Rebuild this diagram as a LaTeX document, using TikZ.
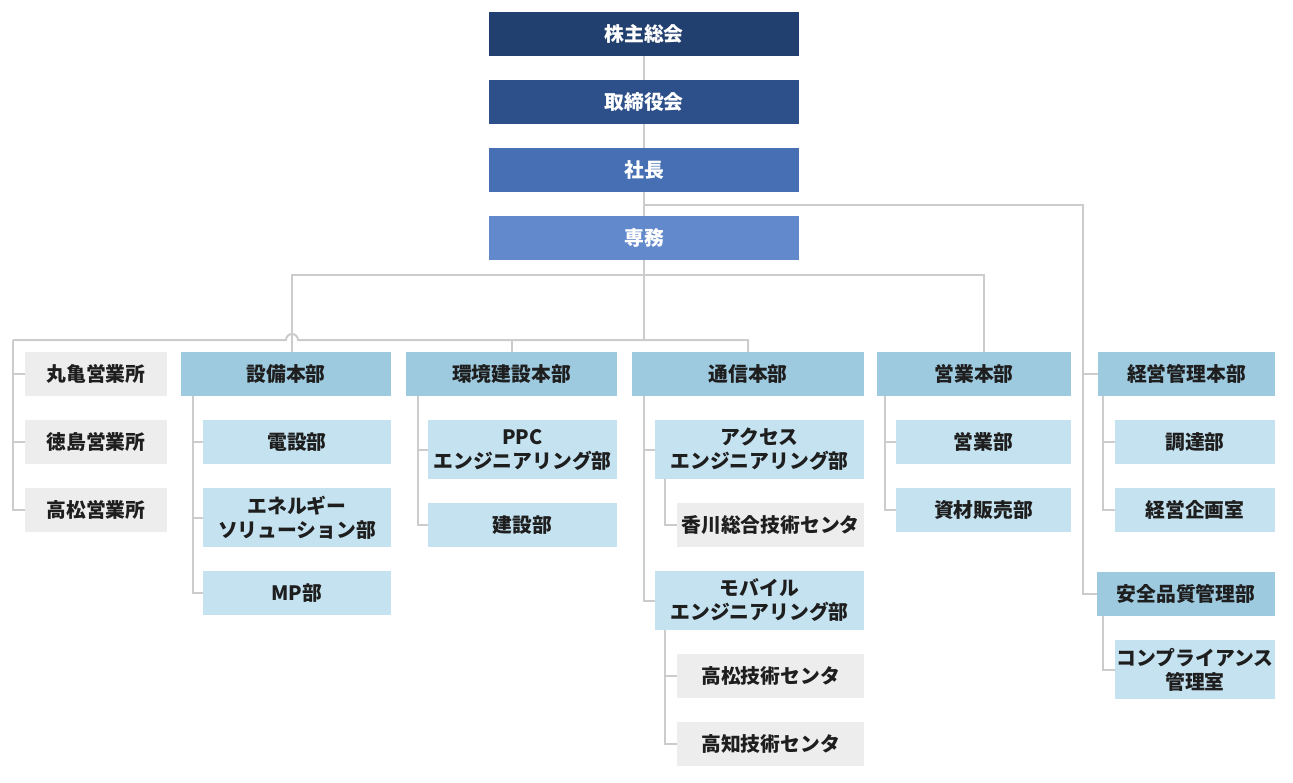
\documentclass[tikz,border=0pt]{standalone}
\usepackage{fontspec}
\setmainfont{Noto Sans CJK JP}
\definecolor{navydark}{RGB}{34,64,111}
\definecolor{navymid}{RGB}{45,80,138}
\definecolor{bluemid}{RGB}{71,112,180}
\definecolor{bluelight}{RGB}{97,137,203}
\definecolor{hqblue}{RGB}{158,202,224}
\definecolor{subblue}{RGB}{197,226,240}
\definecolor{boxgrey}{RGB}{237,237,237}
\definecolor{linegrey}{RGB}{204,204,204}
\definecolor{textdark}{RGB}{30,30,30}

\begin{document}
\begin{tikzpicture}[x=1pt, y=-1pt,
    box/.style={minimum height=44pt, inner sep=0pt, align=center, text=textdark,
        font=\bfseries\fontsize{19.8}{24}\selectfont},
    topbox/.style={box, minimum width=310pt, text=white},
    hqbox/.style={box, fill=hqblue},
    subbox/.style={box, fill=subblue},
    greybox/.style={box, fill=boxgrey},
    tall/.style={minimum height=59pt},
    link/.style={draw=linegrey, line width=2pt}]
    \useasboundingbox (0,0) rectangle (1293,782);

    % Cabecera
    \node[topbox, fill=navydark] (kabunushi) at (644,34) {株主総会};
    \node[topbox, fill=navymid] (torishimari) at (644,102) {取締役会};
    \node[topbox, fill=bluemid] (shacho) at (644,170) {社長};
    \node[topbox, fill=bluelight] (senmu) at (644,238) {専務};

    % Sucursales
    \foreach \n/\y/\t in {marugame/374/丸亀営業所, tokushima/442/徳島営業所, takamatsu/510/高松営業所} {
        \node[greybox, minimum width=142pt] (\n) at (96,\y) {\t};
    }

    % Honbu
    \node[hqbox, minimum width=210pt] (setsubi) at (286,374) {設備本部};
    \node[hqbox, minimum width=211pt] (kankyo) at (511.5,374) {環境建設本部};
    \node[hqbox, minimum width=232pt] (tsushin) at (748,374) {通信本部};
    \node[hqbox, minimum width=194pt] (eigyo) at (974,374) {営業本部};
    \node[hqbox, minimum width=177pt] (keiei) at (1186.5,374) {経営管理本部};
    \node[hqbox, minimum width=178pt] (anzen) at (1186,594) {安全品質管理部};

    % Departamentos
    \node[subbox, minimum width=188pt] (densetsu) at (297,442) {電設部};
    \node[subbox, tall, minimum width=188pt] (energy) at (297,517.5) {エネルギー\\ソリューション部};
    \node[subbox, minimum width=188pt] (mp) at (297,593) {MP部};
    \node[subbox, tall, minimum width=189pt] (ppc) at (522.5,449.5) {PPC\\エンジニアリング部};
    \node[subbox, minimum width=189pt] (kensetsu) at (522.5,525) {建設部};
    \node[subbox, tall, minimum width=209pt] (access) at (759.5,449.5) {アクセス\\エンジニアリング部};
    \node[subbox, tall, minimum width=209pt] (mobile) at (759.5,600.5) {モバイル\\エンジニアリング部};
    \node[subbox, minimum width=175pt] (eigyobu) at (983.5,442) {営業部};
    \node[subbox, minimum width=175pt] (shizai) at (983.5,510) {資材販売部};
    \node[subbox, minimum width=160pt] (chotatsu) at (1195,442) {調達部};
    \node[subbox, minimum width=160pt] (kikaku) at (1195,510) {経営企画室};
    \node[subbox, tall, minimum width=160pt] (compliance) at (1195,669.5) {コンプライアンス\\管理室};

    % Centros
    \node[greybox, minimum width=187pt] (kagawa) at (770.5,525) {香川総合技術センタ};
    \node[greybox, minimum width=187pt] (takamatsuc) at (770.5,676) {高松技術センタ};
    \node[greybox, minimum width=187pt] (kochi) at (770.5,744) {高知技術センタ};

    % Lineas verticales
    \draw[link] (kabunushi) -- (torishimari) -- (shacho) -- (senmu);

    % Rama derecha
    \coordinate (rjoint) at (1083,205);
    \draw[link] (shacho.south |- rjoint) -- (rjoint) |- (anzen.west);
    \draw[link] (rjoint |- keiei.west) -- (keiei.west);

    % Rama superior
    \coordinate (upl) at (292,275);
    \coordinate (upr) at (984,275);
    \draw[link] (setsubi.north -| upl) -- (upl) -- (upr) -- (eigyo.north -| upr);

    % Rama inferior
    \coordinate (lowl) at (13,340);
    \draw[link] (senmu.south) -- (senmu.south |- lowl);
    \draw[link] (lowl) -- (286,340) arc[start angle=180, end angle=360, radius=6] -| (tsushin.north);
    \draw[link] (kankyo.north) -- (kankyo.north |- lowl);
    \draw[link] (lowl) |- (takamatsu.west);
    \foreach \n in {marugame, tokushima} {
        \draw[link] (lowl |- \n.west) -- (\n.west);
    }

    % Ramas de cada honbu
    \coordinate (sb) at ([xshift=12pt]setsubi.south west);
    \draw[link] (sb) |- (mp.west);
    \foreach \n in {densetsu, energy} {
        \draw[link] (sb |- \n.west) -- (\n.west);
    }
    \coordinate (kb) at ([xshift=12pt]kankyo.south west);
    \draw[link] (kb) |- (kensetsu.west);
    \draw[link] (kb |- ppc.west) -- (ppc.west);
    \coordinate (tb) at ([xshift=12pt]tsushin.south west);
    \draw[link] (tb) |- (mobile.west);
    \draw[link] (tb |- access.west) -- (access.west);
    \coordinate (ab) at ([xshift=10pt]access.south west);
    \draw[link] (ab) |- (kagawa.west);
    \coordinate (mb) at ([xshift=10pt]mobile.south west);
    \draw[link] (mb) |- (kochi.west);
    \draw[link] (mb |- takamatsuc.west) -- (takamatsuc.west);
    \coordinate (eb) at ([xshift=8pt]eigyo.south west);
    \draw[link] (eb) |- (shizai.west);
    \draw[link] (eb |- eigyobu.west) -- (eigyobu.west);
    \coordinate (gb) at ([xshift=5pt]keiei.south west);
    \draw[link] (gb) |- (kikaku.west);
    \draw[link] (gb |- chotatsu.west) -- (chotatsu.west);
    \coordinate (qb) at ([xshift=6pt]anzen.south west);
    \draw[link] (qb) |- (compliance.west);
\end{tikzpicture}
\end{document}
